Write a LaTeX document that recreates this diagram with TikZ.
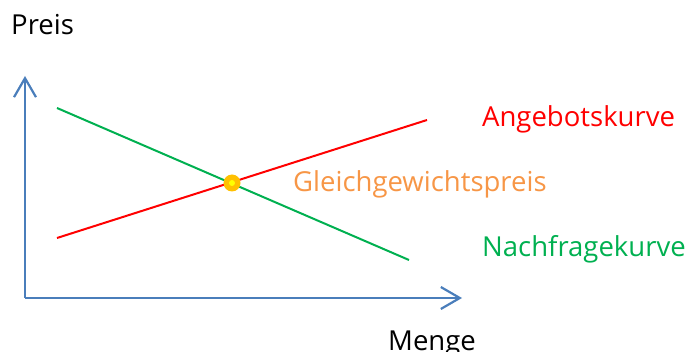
\documentclass[tikz,border=0pt]{standalone}
\usepackage{fontspec}
\setmainfont{Open Sans}
\usetikzlibrary{arrows.meta}
\definecolor{axisblue}{HTML}{4A7EBB}
\definecolor{supred}{HTML}{FF0000}
\definecolor{demgreen}{HTML}{00B050}
\definecolor{eqorange}{HTML}{F79646}
\definecolor{gold}{HTML}{FFC000}
\definecolor{yel}{HTML}{FFFF00}
\tikzset{
  axis/.style={draw=axisblue, line width=2.2pt, -{Straight Barb[length=19pt,width=22pt,line width=2.2pt]}},
  curve/.style={line width=2pt},
  lbl/.style={anchor=base west, inner sep=0pt, font=\fontsize{27.5}{32}\selectfont},
}
\begin{document}
\begin{tikzpicture}[x=1pt,y=-1pt]
\useasboundingbox (0,0) rectangle (685,352);
\coordinate (O) at (25,298);
\coordinate (ytop) at (25,76);
\coordinate (xend) at (462,298);
\draw[axis] (O) -- (ytop);
\draw[axis] (O) -- (xend);
\coordinate (s1) at (57,238);
\coordinate (s2) at (427,120);
\coordinate (d1) at (57,108);
\coordinate (d2) at (409,260);
\draw[curve, supred] (s1) -- (s2);
\draw[curve, demgreen] (d1) -- (d2);
\node[circle, fill=gold, minimum size=17pt, inner sep=0pt] (eq) at (232,183) {};
\node[circle, fill=yel, minimum size=6pt, inner sep=0pt] (eqc) at (eq) {};
\node[lbl] (preis) at (11,35) {Preis};
\node[lbl] (menge) at (388,351) {Menge};
\node[lbl, text=supred] (ang) at (482,127) {Angebotskurve};
\node[lbl, text=eqorange] (gg) at (293,192) {Gleichgewichtspreis};
\node[lbl, text=demgreen] (nach) at (482,257) {Nachfragekurve};
\end{tikzpicture}
\end{document}
